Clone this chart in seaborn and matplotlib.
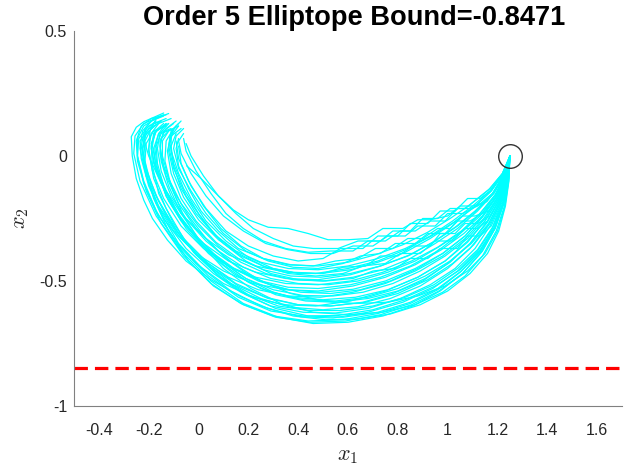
import numpy as np
import pandas as pd
import matplotlib
matplotlib.use('Agg')
import matplotlib.pyplot as plt
import seaborn as sns

# trajectories, (x1, x2) pairs, lowest/outer first
smooth_paths = [
    [(1.25, 0), (1.245, -0.09), (1.225, -0.19), (1.19, -0.29), (1.14, -0.38), (1.06, -0.47), (0.97, -0.54),
     (0.86, -0.60), (0.74, -0.64), (0.60, -0.665), (0.46, -0.67), (0.32, -0.645), (0.18, -0.59), (0.05, -0.50),
     (-0.07, -0.38), (-0.17, -0.24), (-0.235, -0.10), (-0.26, 0.01), (-0.255, 0.08), (-0.22, 0.13), (-0.16, 0.155)],
    [(1.25, 0), (1.244, -0.09), (1.224, -0.19), (1.19, -0.29), (1.13, -0.385), (1.05, -0.465), (0.96, -0.535),
     (0.85, -0.59), (0.72, -0.63), (0.58, -0.655), (0.44, -0.66), (0.30, -0.64), (0.17, -0.59), (0.05, -0.51),
     (-0.06, -0.40), (-0.15, -0.27), (-0.21, -0.14), (-0.245, -0.02), (-0.25, 0.06), (-0.23, 0.12), (-0.19, 0.15),
     (-0.13, 0.165)],
    [(1.25, 0), (1.242, -0.09), (1.22, -0.19), (1.18, -0.29), (1.12, -0.38), (1.04, -0.46), (0.94, -0.53),
     (0.82, -0.585), (0.68, -0.625), (0.54, -0.648), (0.41, -0.643), (0.28, -0.61), (0.17, -0.563), (0.05, -0.495),
     (-0.05, -0.42), (-0.125, -0.336), (-0.185, -0.25), (-0.22, -0.176), (-0.25, -0.09), (-0.266, 0.0),
     (-0.27, 0.077), (-0.25, 0.115), (-0.22, 0.137), (-0.14, 0.172)],
    [(1.25, 0), (1.243, -0.09), (1.222, -0.19), (1.185, -0.29), (1.13, -0.375), (1.05, -0.455), (0.95, -0.52),
     (0.83, -0.575), (0.70, -0.615), (0.56, -0.638), (0.42, -0.64), (0.29, -0.62), (0.16, -0.565), (0.04, -0.48),
     (-0.07, -0.37), (-0.16, -0.24), (-0.22, -0.11), (-0.245, 0.0), (-0.24, 0.07), (-0.20, 0.12), (-0.15, 0.14)],
    [(1.25, 0), (1.24, -0.08), (1.215, -0.18), (1.17, -0.28), (1.11, -0.37), (1.03, -0.45), (0.93, -0.515),
     (0.81, -0.57), (0.68, -0.61), (0.55, -0.628), (0.42, -0.625), (0.29, -0.60), (0.17, -0.545), (0.06, -0.47),
     (-0.05, -0.37), (-0.14, -0.25), (-0.20, -0.12), (-0.23, -0.01), (-0.235, 0.06), (-0.20, 0.11), (-0.16, 0.13)],
    [(1.25, 0), (1.241, -0.085), (1.218, -0.185), (1.18, -0.285), (1.12, -0.375), (1.04, -0.45), (0.945, -0.515),
     (0.83, -0.565), (0.70, -0.60), (0.57, -0.618), (0.44, -0.618), (0.32, -0.60), (0.20, -0.555), (0.09, -0.485),
     (-0.01, -0.395), (-0.10, -0.285), (-0.17, -0.16), (-0.21, -0.05), (-0.225, 0.03), (-0.215, 0.09),
     (-0.18, 0.13), (-0.13, 0.15)],
    [(1.25, 0), (1.24, -0.08), (1.21, -0.18), (1.16, -0.28), (1.09, -0.37), (1.00, -0.45), (0.89, -0.52),
     (0.77, -0.57), (0.64, -0.603), (0.50, -0.615), (0.37, -0.605), (0.25, -0.57), (0.13, -0.51), (0.02, -0.42),
     (-0.08, -0.31), (-0.16, -0.18), (-0.21, -0.06), (-0.225, 0.03), (-0.21, 0.09), (-0.17, 0.125)],
    [(1.25, 0), (1.238, -0.08), (1.21, -0.17), (1.16, -0.26), (1.09, -0.35), (1.00, -0.43), (0.90, -0.50),
     (0.78, -0.55), (0.66, -0.585), (0.53, -0.60), (0.40, -0.595), (0.28, -0.57), (0.16, -0.52), (0.05, -0.445),
     (-0.05, -0.35), (-0.13, -0.24), (-0.19, -0.12), (-0.215, -0.02), (-0.21, 0.05), (-0.18, 0.10), (-0.13, 0.12)],
    [(1.25, 0), (1.245, -0.1), (1.23, -0.2), (1.20, -0.3), (1.15, -0.39), (1.08, -0.46), (0.99, -0.52),
     (0.88, -0.56), (0.76, -0.585), (0.63, -0.59), (0.50, -0.58), (0.37, -0.55), (0.25, -0.50), (0.14, -0.43),
     (0.03, -0.34), (-0.07, -0.23), (-0.15, -0.11), (-0.20, 0.0), (-0.22, 0.07), (-0.21, 0.11), (-0.17, 0.14)],
    [(1.25, 0), (1.237, -0.08), (1.208, -0.175), (1.16, -0.265), (1.09, -0.35), (1.01, -0.425), (0.91, -0.49),
     (0.80, -0.54), (0.68, -0.57), (0.55, -0.585), (0.43, -0.58), (0.31, -0.555), (0.20, -0.505), (0.10, -0.435),
     (0.01, -0.35), (-0.07, -0.25), (-0.13, -0.14), (-0.17, -0.04), (-0.185, 0.04), (-0.175, 0.10), (-0.14, 0.13)],
    [(1.25, 0), (1.236, -0.08), (1.205, -0.17), (1.15, -0.26), (1.08, -0.34), (0.99, -0.42), (0.88, -0.485),
     (0.76, -0.535), (0.63, -0.565), (0.50, -0.575), (0.37, -0.565), (0.25, -0.53), (0.14, -0.47), (0.04, -0.39),
     (-0.05, -0.29), (-0.12, -0.18), (-0.17, -0.06), (-0.19, 0.03), (-0.18, 0.09), (-0.14, 0.12)],
    [(1.25, 0), (1.235, -0.08), (1.20, -0.17), (1.15, -0.25), (1.08, -0.33), (0.99, -0.40), (0.89, -0.46),
     (0.78, -0.51), (0.66, -0.545), (0.54, -0.56), (0.42, -0.558), (0.30, -0.535), (0.19, -0.49), (0.09, -0.42),
     (0.0, -0.34), (-0.08, -0.24), (-0.14, -0.13), (-0.18, -0.03), (-0.19, 0.05), (-0.17, 0.10), (-0.12, 0.13)],
    [(1.25, 0), (1.233, -0.08), (1.195, -0.165), (1.14, -0.245), (1.07, -0.32), (0.98, -0.39), (0.88, -0.45),
     (0.77, -0.50), (0.65, -0.535), (0.53, -0.55), (0.41, -0.545), (0.30, -0.52), (0.20, -0.475), (0.11, -0.41),
     (0.03, -0.33), (-0.04, -0.24), (-0.10, -0.14), (-0.14, -0.04), (-0.155, 0.04), (-0.14, 0.10), (-0.10, 0.13)],
    [(1.25, 0), (1.234, -0.08), (1.198, -0.16), (1.14, -0.24), (1.07, -0.32), (0.98, -0.39), (0.87, -0.45),
     (0.75, -0.50), (0.62, -0.533), (0.49, -0.545), (0.36, -0.535), (0.24, -0.50), (0.13, -0.445), (0.03, -0.37),
     (-0.06, -0.27), (-0.13, -0.16), (-0.17, -0.05), (-0.18, 0.03), (-0.16, 0.09), (-0.11, 0.11)],
    [(1.25, 0), (1.232, -0.08), (1.19, -0.16), (1.13, -0.24), (1.05, -0.31), (0.96, -0.38), (0.85, -0.44),
     (0.73, -0.485), (0.61, -0.515), (0.48, -0.53), (0.36, -0.525), (0.25, -0.50), (0.15, -0.455), (0.06, -0.39),
     (-0.02, -0.31), (-0.09, -0.22), (-0.14, -0.12), (-0.165, -0.03), (-0.17, 0.04), (-0.15, 0.09), (-0.10, 0.11)],
    [(1.25, 0), (1.23, -0.08), (1.19, -0.16), (1.13, -0.23), (1.06, -0.30), (0.97, -0.36), (0.87, -0.42),
     (0.76, -0.465), (0.64, -0.50), (0.52, -0.515), (0.40, -0.51), (0.29, -0.49), (0.18, -0.445), (0.08, -0.38),
     (-0.01, -0.29), (-0.08, -0.19), (-0.13, -0.08), (-0.155, 0.01), (-0.15, 0.07), (-0.12, 0.10)],
    [(1.25, 0), (1.228, -0.07), (1.185, -0.15), (1.12, -0.22), (1.04, -0.29), (0.95, -0.35), (0.85, -0.41),
     (0.74, -0.455), (0.62, -0.485), (0.50, -0.50), (0.38, -0.495), (0.27, -0.47), (0.17, -0.425), (0.08, -0.36),
     (0.0, -0.28), (-0.07, -0.19), (-0.12, -0.09), (-0.145, 0.0), (-0.145, 0.06), (-0.12, 0.10), (-0.08, 0.12)],
    [(1.25, 0), (1.226, -0.07), (1.18, -0.15), (1.11, -0.22), (1.03, -0.285), (0.94, -0.345), (0.84, -0.40),
     (0.73, -0.44), (0.61, -0.47), (0.49, -0.485), (0.37, -0.48), (0.26, -0.455), (0.16, -0.41), (0.07, -0.345),
     (-0.01, -0.26), (-0.07, -0.17), (-0.11, -0.07), (-0.125, 0.02), (-0.11, 0.08), (-0.07, 0.11)],
    [(1.25, 0), (1.225, -0.07), (1.175, -0.14), (1.10, -0.21), (1.02, -0.27), (0.93, -0.33), (0.83, -0.385),
     (0.72, -0.425), (0.61, -0.455), (0.49, -0.47), (0.38, -0.465), (0.27, -0.445), (0.17, -0.40), (0.08, -0.335),
     (0.0, -0.255), (-0.06, -0.165), (-0.10, -0.07), (-0.12, 0.02), (-0.115, 0.08), (-0.09, 0.12)],
    [(1.25, 0), (1.222, -0.07), (1.17, -0.14), (1.10, -0.20), (1.02, -0.26), (0.93, -0.32), (0.83, -0.37),
     (0.72, -0.41), (0.60, -0.44), (0.48, -0.455), (0.36, -0.45), (0.25, -0.425), (0.15, -0.38), (0.06, -0.31),
     (-0.01, -0.23), (-0.07, -0.13), (-0.10, -0.04), (-0.11, 0.04), (-0.09, 0.09)],
    [(1.25, 0), (1.22, -0.07), (1.165, -0.135), (1.09, -0.195), (1.01, -0.25), (0.92, -0.305), (0.82, -0.355),
     (0.71, -0.395), (0.60, -0.425), (0.48, -0.44), (0.37, -0.435), (0.26, -0.41), (0.16, -0.37), (0.08, -0.30),
     (0.01, -0.22), (-0.04, -0.13), (-0.08, -0.04), (-0.09, 0.03), (-0.08, 0.07)],
    [(1.25, 0), (1.244, -0.1), (1.228, -0.2), (1.195, -0.3), (1.14, -0.4), (1.07, -0.48), (0.98, -0.545),
     (0.87, -0.595), (0.74, -0.625), (0.60, -0.635), (0.46, -0.625), (0.33, -0.59), (0.21, -0.53), (0.10, -0.45),
     (0.01, -0.35), (-0.06, -0.24), (-0.11, -0.12), (-0.135, -0.02), (-0.13, 0.06), (-0.10, 0.11)],
    [(1.25, 0), (1.236, -0.08), (1.205, -0.17), (1.15, -0.26), (1.08, -0.345), (0.99, -0.42), (0.88, -0.485),
     (0.75, -0.54), (0.61, -0.58), (0.47, -0.60), (0.34, -0.595), (0.22, -0.565), (0.10, -0.51), (-0.01, -0.43),
     (-0.10, -0.33), (-0.17, -0.22), (-0.22, -0.10), (-0.245, 0.0), (-0.245, 0.07), (-0.22, 0.12), (-0.18, 0.145)],
    [(1.25, 0), (1.246, -0.1), (1.232, -0.2), (1.205, -0.3), (1.16, -0.39), (1.09, -0.47), (1.0, -0.54),
     (0.89, -0.595), (0.77, -0.632), (0.64, -0.652), (0.51, -0.655), (0.38, -0.64), (0.25, -0.60), (0.13, -0.54),
     (0.02, -0.455), (-0.08, -0.35), (-0.15, -0.23), (-0.20, -0.11), (-0.22, -0.01), (-0.215, 0.06),
     (-0.19, 0.11), (-0.15, 0.14)],
    [(1.25, 0), (1.234, -0.08), (1.20, -0.165), (1.145, -0.25), (1.07, -0.33), (0.98, -0.40), (0.87, -0.46),
     (0.75, -0.51), (0.62, -0.545), (0.49, -0.565), (0.36, -0.56), (0.24, -0.535), (0.12, -0.485), (0.01, -0.41),
     (-0.08, -0.32), (-0.16, -0.20), (-0.21, -0.08), (-0.235, 0.03), (-0.225, 0.10), (-0.19, 0.14), (-0.14, 0.16)],
    [(1.25, 0), (1.23, -0.075), (1.19, -0.155), (1.13, -0.23), (1.055, -0.30), (0.96, -0.365), (0.855, -0.42),
     (0.74, -0.465), (0.61, -0.5), (0.48, -0.515), (0.35, -0.51), (0.23, -0.485), (0.12, -0.44), (0.02, -0.37),
     (-0.07, -0.28), (-0.14, -0.17), (-0.185, -0.06), (-0.2, 0.03), (-0.19, 0.09), (-0.16, 0.13), (-0.11, 0.15)],
    [(1.25, 0), (1.24, -0.09), (1.215, -0.18), (1.17, -0.27), (1.105, -0.355), (1.02, -0.43), (0.92, -0.495),
     (0.80, -0.55), (0.67, -0.585), (0.53, -0.60), (0.40, -0.595), (0.27, -0.565), (0.15, -0.51), (0.04, -0.43),
     (-0.06, -0.33), (-0.13, -0.21), (-0.18, -0.09), (-0.2, 0.02), (-0.195, 0.10), (-0.17, 0.15), (-0.12, 0.17)],
    [(1.25, 0), (1.232, -0.08), (1.195, -0.16), (1.14, -0.24), (1.065, -0.31), (0.975, -0.375), (0.87, -0.435),
     (0.75, -0.485), (0.62, -0.52), (0.48, -0.54), (0.35, -0.535), (0.22, -0.51), (0.10, -0.46), (-0.01, -0.39),
     (-0.10, -0.30), (-0.17, -0.19), (-0.21, -0.08), (-0.225, 0.02), (-0.215, 0.08), (-0.18, 0.12)],
    [(1.25, 0), (1.243, -0.09), (1.223, -0.19), (1.185, -0.29), (1.13, -0.38), (1.055, -0.46), (0.96, -0.53),
     (0.85, -0.585), (0.72, -0.625), (0.58, -0.645), (0.44, -0.64), (0.31, -0.61), (0.19, -0.555), (0.08, -0.48),
     (-0.02, -0.385), (-0.10, -0.27), (-0.16, -0.15), (-0.185, -0.04), (-0.19, 0.04), (-0.17, 0.10), (-0.13, 0.13)],
    [(1.25, 0), (1.228, -0.07), (1.185, -0.145), (1.12, -0.215), (1.04, -0.28), (0.95, -0.34), (0.85, -0.395),
     (0.73, -0.44), (0.61, -0.475), (0.48, -0.495), (0.35, -0.49), (0.23, -0.465), (0.12, -0.42), (0.02, -0.35),
     (-0.07, -0.26), (-0.13, -0.16), (-0.165, -0.05), (-0.175, 0.03), (-0.16, 0.09), (-0.13, 0.13)],
    [(1.25, 0), (1.245, -0.09), (1.226, -0.19), (1.19, -0.29), (1.135, -0.385), (1.06, -0.47), (0.965, -0.54),
     (0.855, -0.595), (0.73, -0.635), (0.59, -0.66), (0.45, -0.665), (0.31, -0.645), (0.18, -0.595), (0.06, -0.52),
     (-0.04, -0.42), (-0.12, -0.30), (-0.18, -0.17), (-0.215, -0.05), (-0.23, 0.04), (-0.215, 0.11),
     (-0.18, 0.15), (-0.14, 0.165)],
    [(1.25, 0), (1.225, -0.07), (1.175, -0.14), (1.105, -0.205), (1.025, -0.265), (0.935, -0.32), (0.83, -0.375),
     (0.72, -0.42), (0.60, -0.45), (0.47, -0.47), (0.35, -0.465), (0.23, -0.44), (0.12, -0.395), (0.03, -0.33),
     (-0.05, -0.25), (-0.11, -0.16), (-0.15, -0.06), (-0.165, 0.03), (-0.155, 0.09), (-0.12, 0.13)],
    [(1.25, 0), (1.24, -0.09), (1.212, -0.18), (1.165, -0.27), (1.095, -0.35), (1.01, -0.42), (0.91, -0.48),
     (0.80, -0.53), (0.68, -0.565), (0.55, -0.58), (0.42, -0.575), (0.30, -0.545), (0.19, -0.49), (0.09, -0.42),
     (0.0, -0.33), (-0.07, -0.23), (-0.12, -0.12), (-0.15, -0.02), (-0.155, 0.06), (-0.13, 0.11), (-0.09, 0.14)],
]

# the upper runs that step across in a staircase
stair_paths = [
    [(1.25, 0), (1.23, -0.08), (1.19, -0.14), (1.157, -0.183), (1.10, -0.20), (1.05, -0.20), (1.00, -0.24),
     (0.93, -0.255), (0.88, -0.255), (0.82, -0.29), (0.74, -0.29), (0.68, -0.33), (0.60, -0.335), (0.52, -0.335),
     (0.44, -0.31), (0.36, -0.29), (0.28, -0.285), (0.20, -0.255), (0.14, -0.216), (0.07, -0.15), (0.01, -0.09),
     (-0.048, -0.039)],
    [(1.25, 0), (1.22, -0.07), (1.17, -0.13), (1.12, -0.17), (1.07, -0.21), (1.01, -0.21), (0.96, -0.25),
     (0.90, -0.25), (0.85, -0.30), (0.78, -0.30), (0.73, -0.34), (0.64, -0.34), (0.56, -0.37), (0.46, -0.37),
     (0.38, -0.36), (0.30, -0.33), (0.22, -0.29), (0.15, -0.23), (0.08, -0.16), (0.02, -0.08), (-0.03, 0.0),
     (-0.05, 0.05)],
    [(1.25, 0), (1.225, -0.08), (1.18, -0.15), (1.12, -0.20), (1.06, -0.23), (1.00, -0.23), (0.95, -0.28),
     (0.88, -0.28), (0.83, -0.32), (0.76, -0.32), (0.70, -0.36), (0.62, -0.36), (0.54, -0.39), (0.45, -0.39),
     (0.36, -0.375), (0.27, -0.35), (0.18, -0.30), (0.10, -0.24), (0.03, -0.16), (-0.03, -0.07), (-0.07, 0.01),
     (-0.08, 0.06), (-0.06, 0.09)],
    [(1.25, 0), (1.22, -0.07), (1.17, -0.14), (1.13, -0.17), (1.08, -0.17), (1.03, -0.22), (0.97, -0.22),
     (0.92, -0.27), (0.85, -0.27), (0.80, -0.32), (0.72, -0.32), (0.66, -0.37), (0.57, -0.37), (0.50, -0.41),
     (0.40, -0.42), (0.30, -0.40), (0.20, -0.36), (0.11, -0.30), (0.03, -0.21), (-0.03, -0.12), (-0.07, -0.03),
     (-0.08, 0.04)],
    [(1.25, 0), (1.23, -0.09), (1.19, -0.17), (1.14, -0.23), (1.09, -0.26), (1.04, -0.26), (0.99, -0.31),
     (0.92, -0.31), (0.87, -0.35), (0.79, -0.35), (0.73, -0.39), (0.65, -0.40), (0.58, -0.43), (0.48, -0.45),
     (0.38, -0.445), (0.28, -0.42), (0.19, -0.38), (0.10, -0.31), (0.03, -0.23), (-0.03, -0.14), (-0.08, -0.05),
     (-0.10, 0.03), (-0.09, 0.08), (-0.06, 0.11)],
    [(1.25, 0), (1.235, -0.1), (1.20, -0.19), (1.16, -0.26), (1.12, -0.29), (1.07, -0.29), (1.02, -0.34),
     (0.95, -0.34), (0.89, -0.39), (0.81, -0.39), (0.75, -0.43), (0.66, -0.44), (0.58, -0.47), (0.47, -0.48),
     (0.36, -0.47), (0.26, -0.44), (0.16, -0.39), (0.07, -0.32), (0.0, -0.23), (-0.06, -0.13), (-0.10, -0.03),
     (-0.115, 0.05), (-0.10, 0.11), (-0.07, 0.14)],
    [(1.25, 0), (1.232, -0.09), (1.20, -0.17), (1.165, -0.22), (1.11, -0.24), (1.06, -0.24), (1.01, -0.29),
     (0.96, -0.29), (0.90, -0.33), (0.84, -0.33), (0.78, -0.37), (0.71, -0.37), (0.64, -0.41), (0.55, -0.42),
     (0.46, -0.44), (0.36, -0.435), (0.26, -0.41), (0.17, -0.36), (0.09, -0.29), (0.02, -0.20), (-0.04, -0.10),
     (-0.08, -0.01), (-0.09, 0.06)],
    [(1.25, 0), (1.238, -0.1), (1.21, -0.2), (1.175, -0.28), (1.13, -0.32), (1.08, -0.32), (1.04, -0.37),
     (0.97, -0.37), (0.92, -0.41), (0.85, -0.41), (0.79, -0.45), (0.70, -0.46), (0.62, -0.49), (0.51, -0.50),
     (0.40, -0.495), (0.29, -0.47), (0.19, -0.42), (0.10, -0.35), (0.02, -0.26), (-0.05, -0.16), (-0.10, -0.05),
     (-0.12, 0.04), (-0.11, 0.10), (-0.08, 0.13)],
    [(1.25, 0), (1.225, -0.08), (1.185, -0.15), (1.14, -0.19), (1.09, -0.21), (1.04, -0.21), (0.99, -0.26),
     (0.93, -0.26), (0.87, -0.30), (0.81, -0.30), (0.75, -0.34), (0.68, -0.34), (0.62, -0.38), (0.53, -0.38),
     (0.44, -0.385), (0.35, -0.37), (0.26, -0.34), (0.18, -0.29), (0.11, -0.23), (0.05, -0.15), (-0.01, -0.06),
     (-0.05, 0.02), (-0.06, 0.07)],
    [(1.25, 0), (1.235, -0.09), (1.205, -0.18), (1.17, -0.24), (1.12, -0.27), (1.07, -0.27), (1.03, -0.31),
     (0.97, -0.31), (0.93, -0.36), (0.86, -0.36), (0.80, -0.40), (0.73, -0.40), (0.67, -0.44), (0.58, -0.445),
     (0.50, -0.47), (0.40, -0.47), (0.30, -0.45), (0.20, -0.405), (0.11, -0.34), (0.03, -0.26), (-0.03, -0.17),
     (-0.08, -0.07), (-0.11, 0.02), (-0.11, 0.08), (-0.08, 0.12)],
]

start_point = (1.25, 0)
bound = -0.8471
title = 'Order 5 Elliptope Bound=-0.8471'
x_ticks = [-0.4, -0.2, 0, 0.2, 0.4, 0.6, 0.8, 1, 1.2, 1.4, 1.6]
x_tick_labels = ['-0.4', '-0.2', '0', '0.2', '0.4', '0.6', '0.8', '1', '1.2', '1.4', '1.6']
y_ticks = [-1, -0.5, 0, 0.5]
y_tick_labels = ['-1', '-0.5', '0', '0.5']

rows = []
for i, path in enumerate(smooth_paths + stair_paths):
    for j, (px, py) in enumerate(path):
        rows.append((i, j, px, py))
df = pd.DataFrame(rows, columns=['run', 'step', 'x1', 'x2'])

sns.set_style('white')
plt.rcParams['font.family'] = ['Liberation Sans', 'DejaVu Sans']
plt.rcParams['mathtext.fontset'] = 'cm'
plt.rcParams['axes.unicode_minus'] = False

fig = plt.figure(figsize=(6.29, 4.65), dpi=100)
ax = fig.add_axes([0.1176, 0.1269, 0.8713, 0.8064])

sns.lineplot(data=df, x='x1', y='x2', units='run', estimator=None, sort=False,
             color='#00FFFF', lw=0.9, ax=ax, legend=False)
ax.axhline(bound, color='red', lw=2.3, ls=(0, (4.2, 2.2)))
ax.plot([start_point[0]], [start_point[1]], 'o', mfc='none', mec='#333333', ms=17, mew=1.0)

ax.set_xlim(-0.5, 1.7)
ax.set_ylim(-1, 0.5)
ax.set_xticks(x_ticks)
ax.set_xticklabels(x_tick_labels)
ax.set_yticks(y_ticks)
ax.set_yticklabels(y_tick_labels)

for side in ['top', 'right']:
    ax.spines[side].set_visible(False)
for side in ['left', 'bottom']:
    ax.spines[side].set_color('#808080')
    ax.spines[side].set_linewidth(0.8)
ax.tick_params(direction='in', length=4.5, width=0.8, color='#808080',
               labelcolor='#262626', labelsize=11.5)
ax.tick_params(axis='x', pad=12)
ax.tick_params(axis='y', pad=5)

ax.set_title(title, fontsize=19.6, fontweight='bold', color='black', pad=4, x=0.511)
ax.set_xlabel('$x_1$', fontsize=16, labelpad=5)
ax.set_ylabel('$x_2$', fontsize=16, labelpad=6)

fig.savefig('out.png', dpi=100)
